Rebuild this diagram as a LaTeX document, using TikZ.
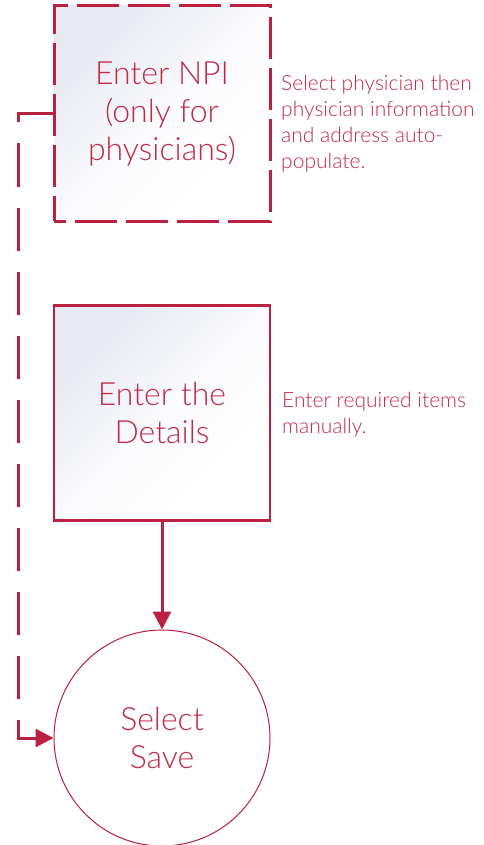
\documentclass[tikz,border=0pt]{standalone}
\usepackage{fontspec}
\setmainfont{Lato}[UprightFont=* Light]
\usetikzlibrary{arrows.meta,shapes.geometric}
\definecolor{crim}{RGB}{186,32,64}
\definecolor{crimtext}{RGB}{192,42,72}
\definecolor{boxtop}{RGB}{230,232,242}
\tikzset{
  stepbox/.style={rectangle, minimum width=216pt, minimum height=215pt, inner sep=0pt,
    top color=boxtop, bottom color=white, middle color=white!82!boxtop, shading angle=45,
    text=crimtext, font=\fontsize{32}{38}\selectfont, align=center},
  endcirc/.style={circle, minimum size=216pt, inner sep=0pt, draw=crim, line width=1pt,
    fill=white, text=crimtext, font=\fontsize{32}{38}\selectfont, align=center},
  note/.style={anchor=north west, inner sep=0pt, text=crimtext,
    font=\fontsize{21}{26}\selectfont, align=left},
  arr/.style={draw=crim, line width=3pt, -{Triangle[length=18pt,width=18pt]}},
  dashconn/.style={arr, dash pattern=on 43pt off 21pt}
}
\begin{document}
\begin{tikzpicture}[x=1pt,y=-1pt]
\useasboundingbox (0,0) rectangle (484,845);
\node[stepbox, draw=crim, line width=3pt, dash pattern=on 42pt off 9pt, dash phase=30pt] (npi) at (162,113.5) {Enter NPI\\(only for\\physicians)};
\node[stepbox, draw=crim, line width=2.2pt] (det) at (162,413) {Enter the\\Details};
\node[endcirc] (save) at (162,738) {Select\\Save};
\node[note] (n1) at (281,75) {Select physician then\\physician information\\and address auto-\\populate.};
\node[note] (n2) at (282,392) {Enter required items\\manually.};
\coordinate (c1) at (18,114);
\coordinate (c2) at (18,738);
\draw[arr] (det.south) -- (save.north);
\draw[dashconn] (npi.west |- c1) -- (c1) -- (c2) -- (save.west);
\end{tikzpicture}
\end{document}
